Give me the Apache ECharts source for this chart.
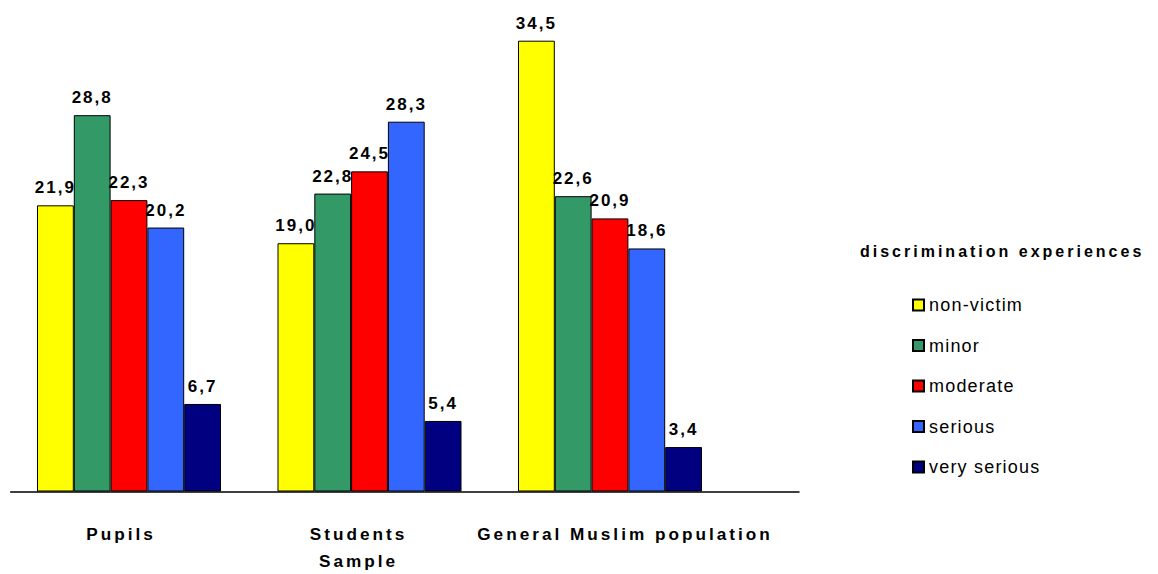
<!DOCTYPE html>
<html>
<head>
<meta charset="utf-8">
<script src="https://cdn.jsdelivr.net/npm/echarts@6/dist/echarts.min.js"></script>
<style>
  html, body { margin: 0; padding: 0; background: #fff; }
  #chart { width: 1158px; height: 574px; }
  /* wide tracking, as in the original office-style chart */
  #chart text { letter-spacing: 1.2px; }
  #chart text[style*="bold"] { letter-spacing: 2px; }
  #chart text[style*="16px"],
  #chart text[style*="17.2px"] { letter-spacing: 3px; }
</style>
</head>
<body>
<div id="chart"></div>
<script>
// Groups on the x axis
const categories = ['Pupils', 'Students\nSample', 'General Muslim population'];

// Share (%) per level of discrimination experience
const seriesNames = ['non-victim', 'minor', 'moderate', 'serious', 'very serious'];
const nonVictim   = [21.9, 19.0, 34.5];
const minor       = [28.8, 22.8, 22.6];
const moderate    = [22.3, 24.5, 20.9];
const serious     = [20.2, 28.3, 18.6];
const verySerious = [6.7, 5.4, 3.4];

const seriesValues = [nonVictim, minor, moderate, serious, verySerious];
const seriesColors = ['#FFFF00', '#339966', '#FF0000', '#3366FF', '#000080'];

const FONT = '"Liberation Sans", Arial, sans-serif';
const fmt = v => v.toFixed(1).replace('.', ',');

const catLabelStyle = {
  fontFamily: FONT, fontSize: 17.2, fontWeight: 'bold', color: '#000', lineHeight: 27
};

const chart = echarts.init(document.getElementById('chart'), null, { renderer: 'svg' });

chart.setOption({
  animation: false,
  backgroundColor: '#ffffff',
  title: {
    text: 'discrimination experiences',
    left: 860,
    top: 243,
    padding: 0,
    textStyle: { fontFamily: FONT, fontSize: 16, fontWeight: 'bold', color: '#000' }
  },
  legend: {
    orient: 'vertical',
    left: 912,
    top: 295,
    padding: 0,
    itemWidth: 11,
    itemHeight: 11,
    itemGap: 20.5,
    icon: 'rect',
    data: seriesNames,
    textStyle: { fontFamily: FONT, fontSize: 18, color: '#000', lineHeight: 20 }
  },
  grid: [
    { left: 8.75, width: 721.5, top: 21.1, height: 470.9 },
    { left: 10.7, width: 788.3, top: 21.1, height: 470.9 }
  ],
  xAxis: [
    {
      type: 'category',
      gridIndex: 0,
      data: categories,
      axisLine: { show: false },
      axisTick: { show: false },
      axisLabel: {
        margin: 28.5,
        interval: 0,
        ...catLabelStyle,
        formatter: (val, idx) => '{c' + idx + '|' + val + '}',
        rich: {
          c0: { ...catLabelStyle, padding: [0, 16, 0, 0] },
          c1: { ...catLabelStyle, padding: [0, 22, 0, 0] },
          c2: { ...catLabelStyle, padding: [0, 0, 0, 30] }
        }
      }
    },
    {
      // baseline drawn across the full plot width
      type: 'value',
      gridIndex: 1,
      min: 0,
      max: 1,
      axisLine: { show: true, lineStyle: { color: '#000', width: 1.5 } },
      axisTick: { show: false },
      axisLabel: { show: false },
      splitLine: { show: false }
    }
  ],
  yAxis: [
    { type: 'value', gridIndex: 0, min: 0, max: 36, show: false },
    { type: 'value', gridIndex: 1, min: 0, max: 36, show: false }
  ],
  series: seriesNames.map((name, i) => ({
    name: name,
    type: 'bar',
    xAxisIndex: 0,
    yAxisIndex: 0,
    data: seriesValues[i],
    barWidth: 36.8,
    barGap: '0%',
    itemStyle: { color: seriesColors[i], borderColor: '#000', borderWidth: 1 },
    label: {
      show: true,
      position: 'top',
      distance: 9,
      fontFamily: FONT,
      fontSize: 17,
      fontWeight: 'bold',
      color: '#000',
      formatter: p => fmt(p.value)
    }
  }))
});
</script>
</body>
</html>
